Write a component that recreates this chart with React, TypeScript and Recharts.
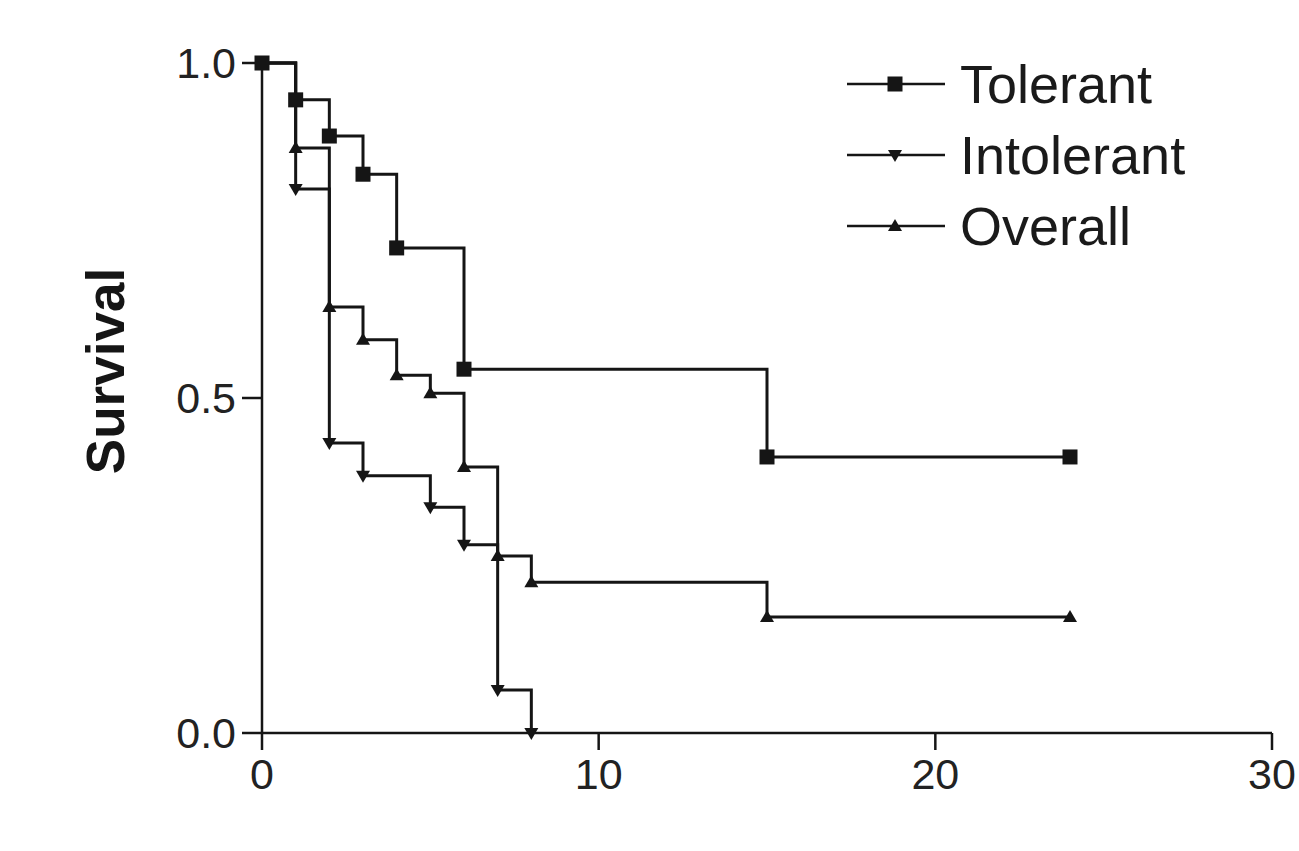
import React from 'react';
import { LineChart, Line, XAxis, YAxis, Legend } from 'recharts';

// Kaplan-Meier estimates (months vs survival fraction)
const tolerantTime = [0, 1, 2, 3, 4, 6, 15, 24];
const tolerantSurv = [1.0, 0.945, 0.891, 0.834, 0.724, 0.543, 0.412, 0.412];

const intolerantTime = [0, 1, 2, 3, 5, 6, 7, 8];
const intolerantSurv = [1.0, 0.812, 0.433, 0.384, 0.337, 0.281, 0.064, 0.0];

const overallTime = [0, 1, 2, 3, 4, 5, 6, 7, 8, 15, 24];
const overallSurv = [1.0, 0.873, 0.636, 0.587, 0.534, 0.507, 0.397, 0.264, 0.225, 0.173, 0.173];

const xTicks = [0, 10, 20, 30];
const yTicks = [0, 0.5, 1];

const seriesNames = ['Tolerant', 'Intolerant', 'Overall'];

const INK = '#151515';
const FONT = '"Liberation Sans", Arial, sans-serif';

const toRows = (times: number[], surv: number[]) => times.map((t, i) => ({ t, s: surv[i] }));

type Shape = 'square' | 'down' | 'up';

const Marker = ({ cx, cy, shape }: { cx: number; cy: number; shape: Shape }) => {
    if (cx == null || cy == null) return null;
    if (shape === 'square') {
        return <rect x={cx - 7.5} y={cy - 7.5} width={15} height={15} fill={INK} />;
    }
    if (shape === 'down') {
        return <polygon points={`${cx - 7},${cy - 5} ${cx + 7},${cy - 5} ${cx},${cy + 7}`} fill={INK} />;
    }
    return <polygon points={`${cx - 7},${cy + 5} ${cx + 7},${cy + 5} ${cx},${cy - 7}`} fill={INK} />;
};

const shapes: Shape[] = ['square', 'down', 'up'];

const LegendBox = () => (
    <div style={{ fontFamily: FONT }}>
        {seriesNames.map((name, i) => (
            <div key={name} style={{ display: 'flex', alignItems: 'center', height: 71 }}>
                <svg width={100} height={20} style={{ overflow: 'visible' }}>
                    <line x1={0} y1={10} x2={98} y2={10} stroke={INK} strokeWidth={2.5} />
                    <Marker cx={48} cy={10} shape={shapes[i]} />
                </svg>
                <span style={{ marginLeft: 13, fontSize: 54, lineHeight: 1, color: '#1a1a1a' }}>{name}</span>
            </div>
        ))}
    </div>
);

const SurvivalLabel = (props: any) => {
    const vb = props.viewBox || { x: 0, y: 0, width: 0, height: 0 };
    const x = vb.x + vb.width - 157;
    const y = vb.y + vb.height / 2 - 27;
    return (
        <text
            x={x}
            y={y}
            transform={`rotate(-90, ${x}, ${y})`}
            textAnchor="middle"
            dominantBaseline="central"
            fontFamily={FONT}
            fontWeight="bold"
            fontSize={53}
            fill={INK}
        >
            Survival
        </text>
    );
};

export default function App() {
    const tickStyle = { fontSize: 43, fill: '#222', fontFamily: FONT };
    return (
        <div style={{ position: 'absolute', left: 0, top: 0, width: 1299, height: 851, background: '#fff', overflow: 'hidden' }}>
            <LineChart width={1299} height={851} margin={{ top: 63, right: 27, bottom: 48, left: 62 }}>
                <XAxis
                    type="number"
                    dataKey="t"
                    domain={[0, 30]}
                    ticks={xTicks}
                    height={70}
                    tickSize={17}
                    tickMargin={8}
                    axisLine={{ stroke: INK, strokeWidth: 2.5 }}
                    tickLine={{ stroke: INK, strokeWidth: 2.5 }}
                    tick={tickStyle}
                />
                <YAxis
                    type="number"
                    dataKey="s"
                    domain={[0, 1]}
                    ticks={yTicks}
                    width={200}
                    tickSize={20}
                    tickMargin={6}
                    tickFormatter={(v: number) => v.toFixed(1)}
                    axisLine={{ stroke: INK, strokeWidth: 2.5 }}
                    tickLine={{ stroke: INK, strokeWidth: 2.5 }}
                    tick={tickStyle}
                    label={{ content: (p: any) => <SurvivalLabel {...p} /> }}
                />
                <Legend
                    layout="horizontal"
                    verticalAlign="middle"
                    align="center"
                    content={() => <LegendBox />}
                    wrapperStyle={{ position: 'absolute', left: 847, top: 48, width: 400, height: 213 }}
                />
                <Line
                    data={toRows(overallTime, overallSurv)}
                    dataKey="s"
                    name="Overall"
                    type="stepAfter"
                    stroke={INK}
                    strokeWidth={3}
                    dot={(p: any) => <Marker key={`o${p.index}`} cx={p.cx} cy={p.cy} shape="up" />}
                    activeDot={false}
                    isAnimationActive={false}
                />
                <Line
                    data={toRows(intolerantTime, intolerantSurv)}
                    dataKey="s"
                    name="Intolerant"
                    type="stepAfter"
                    stroke={INK}
                    strokeWidth={3}
                    dot={(p: any) => <Marker key={`i${p.index}`} cx={p.cx} cy={p.cy} shape="down" />}
                    activeDot={false}
                    isAnimationActive={false}
                />
                <Line
                    data={toRows(tolerantTime, tolerantSurv)}
                    dataKey="s"
                    name="Tolerant"
                    type="stepAfter"
                    stroke={INK}
                    strokeWidth={3}
                    dot={(p: any) => <Marker key={`t${p.index}`} cx={p.cx} cy={p.cy} shape="square" />}
                    activeDot={false}
                    isAnimationActive={false}
                />
            </LineChart>
        </div>
    );
}
